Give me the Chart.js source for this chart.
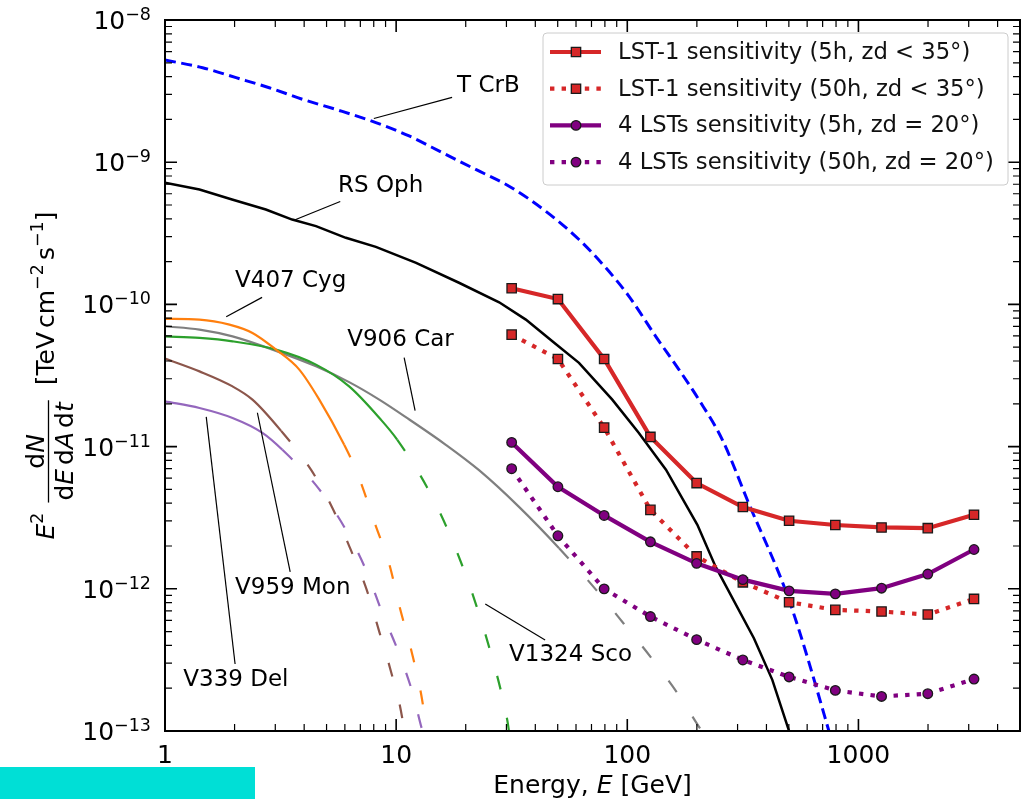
<!DOCTYPE html>
<html>
<head>
<meta charset="utf-8">
<script src="https://cdn.jsdelivr.net/npm/chart.js@4.4.0/dist/chart.umd.min.js"></script>
<style>
    html, body { margin: 0; padding: 0; background: #fff; }
    #wrap { position: relative; width: 1030px; height: 799px; }
    #mark { position: absolute; left: 0; top: 767px; width: 255px; height: 32px; background: #00dfd6; }
</style>
</head>
<body>
<div id="wrap">
    <canvas id="novachart" width="1030" height="799"></canvas>
    <div id="mark"></div>
</div>
<script>
"use strict";

/* tick labels */
var xTickValues = [1, 10, 100, 1000];
var yTickExponents = [-13, -12, -11, -10, -9, -8];

/* LST sensitivity curves: energy [GeV] and E^2 dN/dE [TeV cm-2 s-1] */
var sensEnergy = [31.6, 50.1, 79.4, 125.9, 199.5, 316.2, 501.2, 794.3, 1258.9, 1995.3, 3162.3];
var lst1_5h  = [1.30e-10, 1.09e-10, 4.13e-11, 1.17e-11, 5.54e-12, 3.76e-12, 3.01e-12, 2.81e-12, 2.70e-12, 2.67e-12, 3.32e-12];
var lst1_50h = [6.13e-11, 4.13e-11, 1.36e-11, 3.59e-12, 1.69e-12, 1.11e-12, 8.05e-13, 7.11e-13, 6.92e-13, 6.59e-13, 8.49e-13];
var lst4_5h  = [1.07e-11, 5.22e-12, 3.28e-12, 2.14e-12, 1.51e-12, 1.16e-12, 9.67e-13, 9.21e-13, 1.01e-12, 1.27e-12, 1.89e-12];
var lst4_50h = [6.99e-12, 2.36e-12, 9.99e-13, 6.38e-13, 4.39e-13, 3.16e-13, 2.40e-13, 1.93e-13, 1.75e-13, 1.83e-13, 2.32e-13];

/* nova spectra */
var tcrbE = [1, 1.454, 2.03, 2.825, 3.935, 5.49, 8.17, 11.38, 15.86, 22.1, 30.8, 44.4, 61.8, 80.7, 101.7, 132.7, 167.3, 204, 257.5, 335, 500, 745, 782];
var tcrbF = [5.23e-9, 4.62e-9, 3.93e-9, 3.34e-9, 2.77e-9, 2.35e-9, 1.90e-9, 1.53e-9, 1.166e-9, 8.89e-10, 6.78e-10, 4.52e-10, 2.86e-10, 1.81e-10, 1.14e-10, 5.96e-11, 3.48e-11, 2.14e-11, 1.12e-11, 4.0e-12, 8.4e-13, 1.0e-13, 7.5e-14];

var rsophE = [1, 1.41, 1.95, 2.73, 3.55, 4.50, 6.06, 8.17, 12.2, 18.7, 27.9, 36.4, 47.4, 61.8, 86.1, 112, 147, 201, 241, 353, 424, 500, 520];
var rsophF = [7.17e-10, 6.43e-10, 5.47e-10, 4.65e-10, 3.95e-10, 3.55e-10, 2.94e-10, 2.54e-10, 1.96e-10, 1.42e-10, 1.035e-10, 7.82e-11, 5.50e-11, 3.88e-11, 2.14e-11, 1.25e-11, 6.88e-12, 2.82e-12, 1.43e-12, 4.49e-13, 2.29e-13, 1.01e-13, 8.3e-14];

var v407E = [1, 1.41, 1.90, 2.39, 3.02, 3.81, 4.65, 5.96, 6.78, 8.19, 9.33, 10.3, 11.7, 12.8, 13.6, 14.0];
var v407F = [7.91e-11, 7.82e-11, 7.21e-11, 6.30e-11, 4.81e-11, 3.48e-11, 2.14e-11, 1.03e-11, 6.55e-12, 2.73e-12, 1.50e-12, 7.7e-13, 3.54e-13, 1.85e-13, 1.0e-13, 7.5e-14];

var v906E = [1, 1.41, 1.96, 2.92, 4.50, 6.26, 8.45, 11.4, 16.4, 22.9, 34.0, 50.7, 73.3, 96.8, 127, 167, 210, 220];
var v906F = [7.02e-11, 6.65e-11, 5.96e-11, 4.81e-11, 3.67e-11, 2.84e-11, 2.14e-11, 1.55e-11, 1.03e-11, 6.80e-12, 3.77e-12, 1.93e-12, 9.83e-13, 5.66e-13, 3.27e-13, 1.79e-13, 1.0e-13, 9.0e-14];

var v1324E = [1, 1.41, 1.96, 3.02, 4.50, 6.26, 8.58, 10.1, 13.6, 16.5, 19.5, 22.5, 25.7, 28.8, 30.5, 31.1];
var v1324F = [5.96e-11, 5.81e-11, 5.50e-11, 4.81e-11, 3.77e-11, 2.65e-11, 1.55e-11, 1.12e-11, 5.18e-12, 2.73e-12, 1.40e-12, 7.19e-13, 3.52e-13, 1.74e-13, 1.10e-13, 8.6e-14];

var v959E = [1, 1.41, 1.96, 2.39, 3.18, 4.28, 5.30, 6.32, 7.46, 8.45, 9.51, 10.6, 10.9];
var v959F = [4.16e-11, 3.38e-11, 2.65e-11, 2.14e-11, 1.29e-11, 6.88e-12, 3.70e-12, 1.93e-12, 9.83e-13, 5.0e-13, 2.60e-13, 1.26e-13, 8.9e-14];

var v339E = [1, 1.41, 1.96, 2.64, 3.22, 4.65, 6.06, 7.40, 8.73, 10.3, 11.8, 13.0, 13.3];
var v339F = [2.08e-11, 1.87e-11, 1.59e-11, 1.25e-11, 9.5e-12, 5.0e-12, 2.6e-12, 1.36e-12, 6.7e-13, 3.5e-13, 1.84e-13, 1.0e-13, 9.0e-14];

function pairs(xs, ys) {
    return xs.map(function (x, i) { return { x: x, y: ys[i] }; });
}

/* nova curve: solid up to the last measured energy, dashed extrapolation after */
function novaSet(label, xs, ys, color, solidUpTo) {
    return {
        label: label,
        data: pairs(xs, ys),
        borderColor: color,
        borderWidth: 2.2,
        pointRadius: 0,
        cubicInterpolationMode: 'monotone',
        clip: 0,
        order: 10,
        segment: {
            borderDash: function (c) {
                return c.p0.parsed.x >= solidUpTo * 0.999 ? [14, 29] : undefined;
            }
        }
    };
}

function sensSet(label, ys, color, style, radius, dotted, order) {
    return {
        label: label,
        data: pairs(sensEnergy, ys),
        borderColor: color,
        borderWidth: 4.2,
        borderDash: dotted ? [4.4, 7.2] : [],
        borderCapStyle: 'butt',
        pointStyle: style,
        pointRadius: radius,
        pointBackgroundColor: color,
        pointBorderColor: '#1a1a1a',
        pointBorderWidth: 1.3,
        tension: 0,
        clip: 0,
        order: order
    };
}

var datasets = [
    novaSet('V339 Del', v339E, v339F, '#9467bd', 3.22),
    novaSet('V959 Mon', v959E, v959F, '#8c564b', 3.18),
    novaSet('V407 Cyg', v407E, v407F, '#ff7f0e', 5.96),
    novaSet('V1324 Sco', v1324E, v1324F, '#2ca02c', 10.1),
    novaSet('V906 Car', v906E, v906F, '#7f7f7f', 50.7),
    {
        label: 'RS Oph', data: pairs(rsophE, rsophF), borderColor: '#000000',
        borderWidth: 2.5, pointRadius: 0, tension: 0, clip: 0, order: 9
    },
    {
        label: 'T CrB', data: pairs(tcrbE, tcrbF), borderColor: '#0000ff',
        borderWidth: 3, borderDash: [11, 5.5], pointRadius: 0,
        cubicInterpolationMode: 'monotone', clip: 0, order: 8
    },
    sensSet('LST-1 sensitivity (5h, zd < 35°)', lst1_5h, '#d62728', 'rect', 6.6, false, 4),
    sensSet('LST-1 sensitivity (50h, zd < 35°)', lst1_50h, '#d62728', 'rect', 6.6, true, 3),
    sensSet('4 LSTs sensitivity (5h, zd = 20°)', lst4_5h, '#800080', 'circle', 4.8, false, 2),
    sensSet('4 LSTs sensitivity (50h, zd = 20°)', lst4_50h, '#800080', 'circle', 4.8, true, 1)
];
var legendIndexes = [7, 8, 9, 10];

/* label text, text anchor, leader line (data coordinates) */
var annotations = [
    { text: 'T CrB', at: [18.35, 3.41e-9], from: [17.46, 2.86e-9], to: [8.01, 2.03e-9] },
    { text: 'RS Oph', at: [5.61, 6.75e-10], from: [5.73, 5.29e-10], to: [3.59, 3.89e-10] },
    { text: 'V407 Cyg', at: [2.01, 1.47e-10], from: [2.63, 1.12e-10], to: [1.84, 8.2e-11] },
    { text: 'V906 Car', at: [6.14, 5.65e-11], from: [10.83, 4.22e-11], to: [12.08, 1.79e-11] },
    { text: 'V959 Mon', at: [2.01, 1.015e-12], from: [3.48, 1.315e-12], to: [2.51, 1.73e-11] },
    { text: 'V339 Del', at: [1.20, 2.28e-13], from: [2.01, 2.96e-13], to: [1.508, 1.62e-11] },
    { text: 'V1324 Sco', at: [30.8, 3.43e-13], from: [44.1, 4.37e-13], to: [24.3, 7.83e-13] }
];

var FONT = '"DejaVu Sans"';

function setFont(ctx, size, italic) {
    ctx.font = (italic ? 'italic ' : '') + size + 'px ' + FONT;
}

/* draws a run of text pieces (with superscripts) on one baseline */
function textRun(ctx, parts, x, y, align) {
    var total = 0;
    parts.forEach(function (p) {
        setFont(ctx, p.size, p.italic);
        p.w = p.text ? ctx.measureText(p.text).width : 0;
        p.w += (p.gap || 0);
        total += p.w;
    });
    var cx = x;
    if (align === 'right') cx = x - total;
    if (align === 'center') cx = x - total / 2;
    parts.forEach(function (p) {
        setFont(ctx, p.size, p.italic);
        if (p.text) ctx.fillText(p.text, cx, y - (p.rise || 0));
        cx += p.w;
    });
    return total;
}

var framePlugin = {
    id: 'frame',
    afterDraw: function (chart) {
        var ctx = chart.ctx;
        var area = chart.chartArea;
        var xs = chart.scales.x;
        var ys = chart.scales.y;
        var k, m, v, p;

        ctx.save();
        ctx.textBaseline = 'alphabetic';
        ctx.fillStyle = '#000';
        ctx.strokeStyle = '#000';

        /* annotations */
        ctx.lineWidth = 1.2;
        annotations.forEach(function (a) {
            ctx.beginPath();
            ctx.moveTo(xs.getPixelForValue(a.from[0]), ys.getPixelForValue(a.from[1]));
            ctx.lineTo(xs.getPixelForValue(a.to[0]), ys.getPixelForValue(a.to[1]));
            ctx.stroke();
            setFont(ctx, 23, false);
            ctx.textBaseline = 'middle';
            ctx.textAlign = 'left';
            ctx.fillText(a.text, xs.getPixelForValue(a.at[0]), ys.getPixelForValue(a.at[1]));
        });
        ctx.textBaseline = 'alphabetic';

        /* inward ticks on all four sides */
        for (k = 0; k <= 4; k++) {
            for (m = 1; m <= 9; m++) {
                v = m * Math.pow(10, k);
                if (v > xs.max) break;
                p = xs.getPixelForValue(v);
                var lx = m === 1 ? 12 : 7;
                ctx.lineWidth = m === 1 ? 1.6 : 1.2;
                ctx.beginPath();
                ctx.moveTo(p, area.bottom); ctx.lineTo(p, area.bottom - lx);
                ctx.moveTo(p, area.top); ctx.lineTo(p, area.top + lx);
                ctx.stroke();
            }
        }
        for (k = -13; k <= -8; k++) {
            for (m = 1; m <= 9; m++) {
                v = m * Math.pow(10, k);
                if (v > ys.max * 1.0001) break;
                p = ys.getPixelForValue(v);
                var ly = m === 1 ? 12 : 7;
                ctx.lineWidth = m === 1 ? 1.6 : 1.2;
                ctx.beginPath();
                ctx.moveTo(area.left, p); ctx.lineTo(area.left + ly, p);
                ctx.moveTo(area.right, p); ctx.lineTo(area.right - ly, p);
                ctx.stroke();
            }
        }

        /* frame */
        ctx.lineWidth = 2;
        ctx.strokeRect(area.left, area.top, area.right - area.left, area.bottom - area.top);

        /* y tick labels 10^n */
        ctx.textAlign = 'left';
        yTickExponents.forEach(function (e) {
            var py = ys.getPixelForValue(Math.pow(10, e));
            textRun(ctx, [
                { text: '10', size: 25 },
                { text: '\u2212' + Math.abs(e), size: 17.5, rise: 9 }
            ], area.left - 14, py + 9, 'right');
        });

        /* x axis title */
        textRun(ctx, [
            { text: 'Energy, ', size: 25 },
            { text: 'E', size: 25, italic: true },
            { text: ' [GeV]', size: 25 }
        ], (area.left + area.right) / 2, 793, 'center');

        /* y axis title, rotated */
        ctx.save();
        ctx.translate(54, (area.top + area.bottom) / 2);
        ctx.rotate(-Math.PI / 2);
        var ePart = [{ text: 'E', size: 25, italic: true }, { text: '2', size: 17.5, rise: 11 }];
        var numPart = [{ text: 'd', size: 25 }, { text: 'N', size: 25, italic: true }];
        var denPart = [
            { text: 'd', size: 25 }, { text: 'E', size: 25, italic: true, gap: 4 },
            { text: 'd', size: 25 }, { text: 'A', size: 25, italic: true, gap: 4 },
            { text: 'd', size: 25 }, { text: 't', size: 25, italic: true }
        ];
        var unitPart = [
            { text: '[TeV', size: 25, gap: 4 }, { text: 'cm', size: 25 },
            { text: '\u22122', size: 17.5, rise: 11, gap: 4 }, { text: 's', size: 25 },
            { text: '\u22121', size: 17.5, rise: 11 }, { text: ']', size: 25 }
        ];
        var widthOf = function (parts) {
            var w = 0;
            parts.forEach(function (q) {
                setFont(ctx, q.size, q.italic);
                w += ctx.measureText(q.text).width + (q.gap || 0);
            });
            return w;
        };
        var wE = widthOf(ePart), wNum = widthOf(numPart), wDen = widthOf(denPart), wUnit = widthOf(unitPart);
        var wFrac = Math.max(wNum, wDen) + 4;
        var gap1 = 10, gap2 = 15;
        var total = wE + gap1 + wFrac + gap2 + wUnit;
        var u = -total / 2;
        textRun(ctx, ePart, u, 0, 'left');
        u += wE + gap1;
        textRun(ctx, numPart, u + wFrac / 2, -10, 'center');
        textRun(ctx, denPart, u + wFrac / 2, 19, 'center');
        ctx.lineWidth = 1.3;
        ctx.beginPath();
        ctx.moveTo(u, -5.5); ctx.lineTo(u + wFrac, -5.5);
        ctx.stroke();
        u += wFrac + gap2;
        textRun(ctx, unitPart, u, 0, 'left');
        ctx.restore();

        /* legend */
        var bw = 465, bh = 152;
        var bx = area.right - 12 - bw, by = area.top + 13;
        ctx.fillStyle = 'rgba(255,255,255,0.8)';
        ctx.strokeStyle = '#cccccc';
        ctx.lineWidth = 1;
        ctx.beginPath();
        ctx.roundRect(bx, by, bw, bh, 4);
        ctx.fill();
        ctx.stroke();
        legendIndexes.forEach(function (di, row) {
            var ds = chart.data.datasets[di];
            var ry = by + 19 + row * 36.7;
            ctx.strokeStyle = ds.borderColor;
            ctx.lineWidth = ds.borderWidth;
            ctx.lineCap = 'butt';
            ctx.setLineDash(ds.borderDash || []);
            ctx.beginPath();
            ctx.moveTo(bx + 7, ry); ctx.lineTo(bx + 58, ry);
            ctx.stroke();
            ctx.setLineDash([]);
            ctx.fillStyle = ds.pointBackgroundColor;
            ctx.strokeStyle = ds.pointBorderColor;
            ctx.lineWidth = ds.pointBorderWidth;
            Chart.helpers.drawPoint(ctx, {
                pointStyle: ds.pointStyle, radius: ds.pointRadius,
                borderWidth: ds.pointBorderWidth, rotation: 0
            }, bx + 33, ry);
            ctx.fillStyle = '#111';
            setFont(ctx, 22.7, false);
            ctx.textAlign = 'left';
            ctx.textBaseline = 'middle';
            ctx.fillText(ds.label, bx + 75, ry + 1);
        });
        ctx.restore();
    }
};

Chart.defaults.font.family = FONT;

var novachart = new Chart(document.getElementById('novachart').getContext('2d'), {
    type: 'line',
    data: { datasets: datasets },
    options: {
        responsive: false,
        animation: false,
        events: [],
        layout: { padding: { top: 20, right: 9, left: 0, bottom: 0 } },
        plugins: {
            legend: { display: false },
            tooltip: { enabled: false }
        },
        scales: {
            x: {
                type: 'logarithmic',
                min: 1,
                max: 5000,
                grid: { display: false, drawTicks: false },
                border: { display: false },
                ticks: {
                    autoSkip: false,
                    maxRotation: 0,
                    minRotation: 0,
                    padding: 10,
                    color: '#000',
                    font: { size: 25 },
                    callback: function (value) {
                        return xTickValues.indexOf(value) >= 0 ? String(value) : '';
                    }
                },
                afterFit: function (scale) { scale.height = 68; }
            },
            y: {
                type: 'logarithmic',
                min: 1e-13,
                max: 1e-8,
                grid: { display: false, drawTicks: false },
                border: { display: false },
                ticks: { display: false },
                afterFit: function (scale) { scale.width = 165; }
            }
        }
    },
    plugins: [framePlugin]
});
</script>
</body>
</html>
